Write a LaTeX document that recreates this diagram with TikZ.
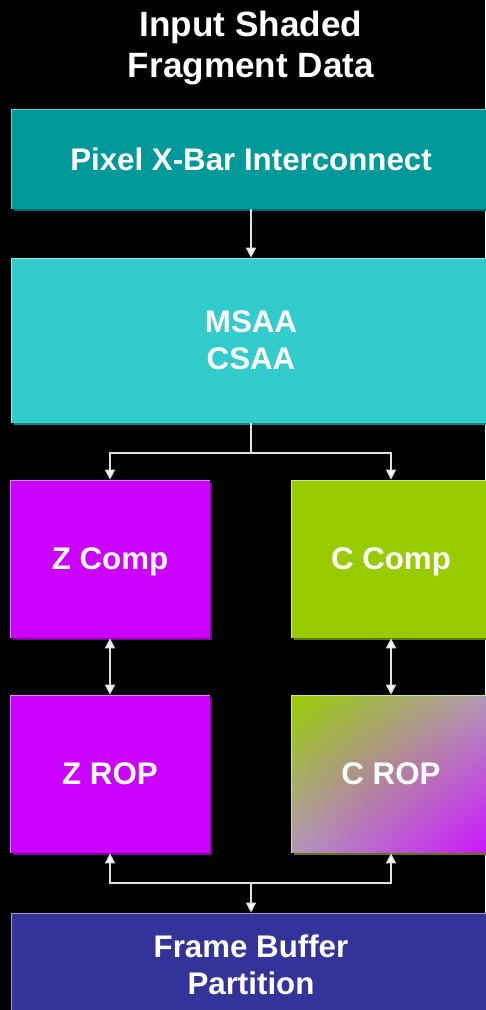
\documentclass[tikz,border=0pt]{standalone}
\usepackage{fontspec}
\setmainfont{Liberation Sans}
\usepackage{tikz}
\usetikzlibrary{arrows.meta, positioning, shadows, shadings}
\definecolor{xbarfill}{HTML}{009999}
\definecolor{xbarlight}{HTML}{66CCCC}
\definecolor{xbardark}{HTML}{006666}
\definecolor{msaafill}{HTML}{33CCCC}
\definecolor{msaalight}{HTML}{99E6E6}
\definecolor{msaadark}{HTML}{1F8080}
\definecolor{zfill}{HTML}{CC00FF}
\definecolor{zlight}{HTML}{E080FF}
\definecolor{zdark}{HTML}{8000A0}
\definecolor{cfill}{HTML}{99CC00}
\definecolor{clight}{HTML}{CCE680}
\definecolor{cdark}{HTML}{5C7A00}
\definecolor{fbfill}{HTML}{333399}
\definecolor{fblight}{HTML}{9999CC}
\definecolor{fbdark}{HTML}{1A1A66}
\definecolor{ropmid}{HTML}{B298BA}
\definecolor{ropend}{HTML}{CC11FF}
\definecolor{wirecol}{HTML}{E0E0E0}
\tikzset{
	unit/.style n args={3}{rectangle, inner sep=0pt, fill=#1, text=white,
		font=\bfseries\fontsize{17.8}{21}\selectfont, align=center, text depth=0pt,
		drop shadow={shadow xshift=0.05cm, shadow yshift=-0.05cm, fill=#3, opacity=1},
		path picture={\draw[#2, line width=0.04cm] (path picture bounding box.south west) |- (path picture bounding box.north east);}},
	wide/.style={minimum width=9.6cm},
	half/.style={minimum width=4cm, minimum height=3.16cm},
	link/.style={draw=wirecol, line width=0.03cm},
	arr/.style={link, -{Triangle[width=0.2cm, length=0.2cm, fill=white]}},
	darr/.style={link, {Triangle[width=0.2cm, length=0.2cm, fill=white]}-{Triangle[width=0.2cm, length=0.2cm, fill=white]}}
}
\begin{document}
\begin{tikzpicture}[x=0.02cm, y=-0.02cm]
		\useasboundingbox (0,0) rectangle (485,1010);
		\fill[black] (0,0) rectangle (485,1010);
		\node[text=white, font=\bfseries\fontsize{20}{23.8}\selectfont, align=center] (title) at (251,48) {Input Shaded\\Fragment Data};
		\node[unit={xbarfill}{xbarlight}{xbardark}, wide, minimum height=2cm] (xbar) at (251,159) {Pixel X-Bar Interconnect};
		\node[unit={msaafill}{msaalight}{msaadark}, wide, minimum height=3.3cm] (msaa) at (251,340.5) {MSAA\\CSAA};
		\node[unit={zfill}{zlight}{zdark}, half] (zcomp) at (110,559) {Z Comp};
		\node[unit={cfill}{clight}{cdark}, half] (ccomp) at (391,559) {C Comp};
		\node[unit={zfill}{zlight}{zdark}, half] (zrop) at (110,774) {Z ROP};
		\node[unit={cfill}{clight}{cdark}, half, drop shadow={fill=black, opacity=0}, upper left=cfill, lower right=ropend, upper right=ropmid, lower left=ropmid] (crop) at (391,774) {C ROP};
		\node[unit={fbfill}{fblight}{fbdark}, wide, minimum height=2.08cm] (fb) at (251,965) {Frame Buffer\\Partition};
		\coordinate (split) at (251,453);
		\coordinate (join) at (251,883);
		\draw[arr] (xbar.south) -- (msaa.north);
		\draw[link] (msaa.south) -- (split);
		\draw[arr] (split) -| (zcomp.north);
		\draw[arr] (split) -| (ccomp.north);
		\draw[darr] (zcomp.south) -- (zrop.north);
		\draw[darr] (ccomp.south) -- (crop.north);
		\draw[arr] (join) -| (zrop.south);
		\draw[arr] (join) -| (crop.south);
		\draw[arr] (join) -- (fb.north);
\end{tikzpicture}
\end{document}
